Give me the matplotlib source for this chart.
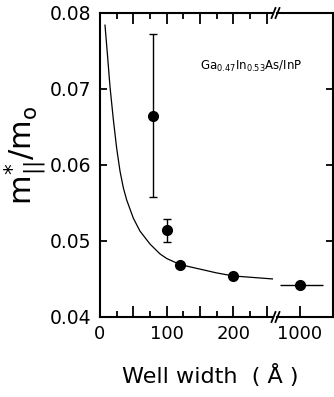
import matplotlib
matplotlib.use("Agg")
import matplotlib.pyplot as plt
from matplotlib.ticker import FixedLocator
from matplotlib.lines import Line2D

plt.rcParams['font.family'] = ['DejaVu Sans']
plt.rcParams['mathtext.fontset'] = 'dejavusans'

# -----------------------------
# Data
# -----------------------------
# measured effective mass vs well width (Angstrom)
well_width = [80, 100, 120, 200]
mass = [0.0665, 0.0514, 0.0469, 0.0454]
mass_err_lo = [0.0107, 0.0015, 0.0, 0.0]
mass_err_hi = [0.0107, 0.0015, 0.0, 0.0]

# bulk value plotted after the axis break
bulk_width = [1000]
bulk_mass = [0.0442]
bulk_width_err = [[300], [345]]

# theoretical curve
curve_width = [7.5, 11, 15, 20, 25, 30, 35, 40, 50, 60, 75, 90, 100, 120,
               150, 175, 200, 230, 260]
curve_mass = [0.0784, 0.0747, 0.0703, 0.0660, 0.0622, 0.0592, 0.0570, 0.0554,
              0.0530, 0.0513, 0.0496, 0.0483, 0.0477, 0.0469, 0.0463, 0.0458,
              0.0454, 0.0452, 0.0450]

# -----------------------------
# Figure with broken x axis
# -----------------------------
W, H = 334, 397
fig = plt.figure(figsize=(W / 100, H / 100), dpi=100)

def box(x0, x1, y0=13, y1=317):
    return [x0 / W, 1 - y1 / H, (x1 - x0) / W, (y1 - y0) / H]

ax1 = fig.add_axes(box(100, 273))
ax2 = fig.add_axes(box(277, 333))

for ax in (ax1, ax2):
    ax.set_ylim(0.04, 0.08)
    ax.patch.set_visible(False)
    for s in ax.spines.values():
        s.set_linewidth(1.5)

ax1.set_xlim(0, 259.5)
ax2.set_xlim(655, 1495)
ax1.spines['right'].set_visible(False)
ax2.spines['left'].set_visible(False)

ax1.plot(curve_width, curve_mass, color='black', lw=0.9)
ax1.errorbar(well_width, mass, yerr=[mass_err_lo, mass_err_hi], fmt='o',
             color='black', ms=7, capsize=3, elinewidth=1, capthick=1)
ax2.errorbar(bulk_width, bulk_mass, xerr=bulk_width_err, fmt='o',
             color='black', ms=7, capsize=0, elinewidth=1)

# ticks, left part
ax1.xaxis.set_major_locator(FixedLocator([0, 100, 200]))
ax1.xaxis.set_minor_locator(FixedLocator([25, 75, 125, 175, 225]))
ax1.set_xticklabels(["0", "100", "200"])
ax1.set_yticks([0.04, 0.05, 0.06, 0.07, 0.08])
ax1.set_yticklabels(["0.04", "0.05", "0.06", "0.07", "0.08"])
ax1.tick_params(axis='x', which='major', direction='in', length=8, width=1.3,
                top=True, labelsize=13, pad=6)
ax1.tick_params(axis='x', which='minor', direction='in', length=4, width=1.3,
                top=True)
ax1.tick_params(axis='y', direction='in', length=5, width=1.3, labelsize=13.5,
                pad=6)
# the unlabelled 50-step ticks are long too
ax1b = ax1.secondary_xaxis('bottom')
ax1b.xaxis.set_major_locator(FixedLocator([50, 150, 250]))
ax1b.tick_params(direction='in', length=8, width=1.3, labelbottom=False)
ax1b.spines['bottom'].set_visible(False)
ax1t = ax1.secondary_xaxis('top')
ax1t.xaxis.set_major_locator(FixedLocator([50, 150, 250]))
ax1t.tick_params(direction='in', length=8, width=1.3, labeltop=False)
ax1t.spines['top'].set_visible(False)

# ticks, right part
ax2.set_xticks([1000])
ax2.set_xticklabels(["1000"])
ax2.tick_params(axis='x', direction='in', length=8, width=1.3, labelsize=13,
                pad=6)
ax2.set_yticks([0.05, 0.06, 0.07])
ax2.tick_params(axis='y', direction='in', length=5, width=1.3, left=False,
                right=True, labelleft=False)

# break marks
for yb in (13, 317):
    for xb in (273.5, 277.5):
        fig.add_artist(Line2D([(xb - 2) / W, (xb + 2) / W],
                              [1 - (yb + 5) / H, 1 - (yb - 5) / H],
                              color='black', lw=1.3))

fig.text(200 / W, 1 - 66 / H, r'Ga$_{0.47}$In$_{0.53}$As/InP', fontsize=8.5,
         ha='left', va='center')

fig.text(26 / W, 1 - 155 / H, r'$\mathrm{m}^{*}_{||}/\mathrm{m}_{\mathrm{o}}$',
         rotation=90, fontsize=22, ha='center', va='center')
fig.text(210 / W, 1 - 376 / H, 'Well width  ( Å )', fontsize=16,
         ha='center', va='center')

plt.savefig("out.png", dpi=100)
